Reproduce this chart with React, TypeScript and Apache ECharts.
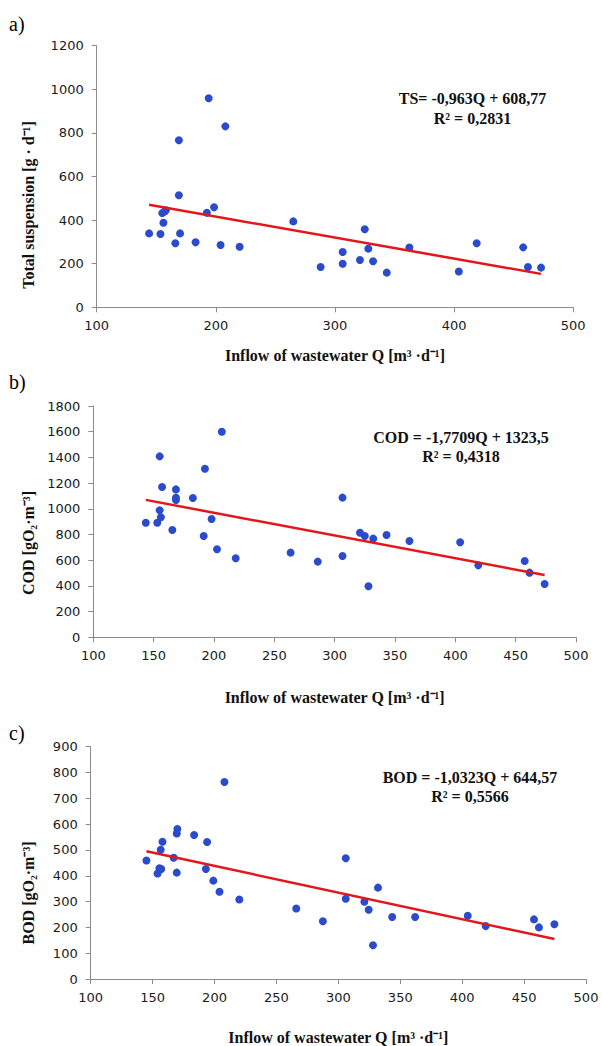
import React, { useEffect, useRef } from "react";
import * as echarts from "echarts";

// ---- Data ----
const tsQ = [144, 153.5, 156, 157, 155, 158, 166, 170, 169, 169, 183, 192.5, 194, 198.5, 204, 208, 220, 265, 288, 306.5, 306.5, 321, 325, 328, 332, 343.5, 362.5, 404, 419, 458, 462, 473];
const tsVal = [339, 336, 388, 439, 432, 445, 294, 339, 514, 766, 298, 434, 959, 459, 286, 830, 278, 394, 185, 254, 200, 217, 358, 269, 211, 159, 274, 164, 294, 275, 185, 182];

const codQ = [143.5, 153, 155, 156, 155, 157, 165.5, 168.5, 168.5, 168.5, 182.5, 191.5, 192.5, 198, 202.5, 206.5, 218, 263.5, 286, 306.5, 306.5, 321, 325, 328, 332, 343, 362, 404, 419, 457.5, 461.5, 474];
const codVal = [892, 892, 988, 934, 1408, 1170, 835, 1151, 1087, 1068, 1084, 788, 1312, 921, 685, 1600, 615, 659, 589, 1087, 633, 814, 788, 397, 768, 796, 750, 739, 560, 594, 503, 415];

const bodQ = [145, 154, 155.5, 157, 156.5, 158, 167, 169.5, 169.5, 170, 183.5, 193, 194, 199, 204, 208, 220, 266, 287.5, 306, 306, 321, 324.5, 328, 332, 343.5, 362, 404.5, 419, 458, 462, 474.5];
const bodVal = [459, 409, 429, 426, 501, 532, 470, 412, 564, 581, 558, 426, 531, 381, 338, 763, 308, 273, 224, 468, 311, 299, 268, 131, 354, 240, 240, 245, 205, 231, 200, 212];

// trend-line coefficients (from the equations shown)
const tsSlope = -0.963, tsIntercept = 608.77;
const codSlope = -1.7709, codIntercept = 1323.5;
const bodSlope = -1.0323, bodIntercept = 644.57;

const xTicksA = [100, 500, 100]; // min, max, interval
const xTicksBC = [100, 500, 50];
const yTicksA = [0, 1200, 200];
const yTicksB = [0, 1800, 200];
const yTicksC = [0, 900, 100];

const eqA = ["TS= -0,963Q + 608,77", "R² = 0,2831"];
const eqB = ["COD = -1,7709Q + 1323,5", "R² = 0,4318"];
const eqC = ["BOD = -1,0323Q + 644,57", "R² = 0,5566"];

const xTitle = "Inflow of wastewater Q [m³ ·d⁻¹]";
const yTitleA = "Total suspension [g · d⁻¹]";
const yTitleB = "COD [gO₂·m⁻³]";
const yTitleC = "BOD [gO₂·m⁻³]";

const SERIF = "'Liberation Serif', 'Times New Roman', serif";
const SANS = "'DejaVu Sans', Verdana, sans-serif";
const BLUE = "#2A4BCB";
const RED = "#E3161B";
const AXIS = "#8C8C8C";

function fitLine(q: number[], slope: number, intercept: number) {
  const lo = Math.min(...q);
  const hi = Math.max(...q);
  return [
    [lo, slope * lo + intercept],
    [hi, slope * hi + intercept],
  ];
}

function xAxis(gridIndex: number, t: number[], nameGap: number) {
  return {
    type: "value",
    gridIndex,
    min: t[0],
    max: t[1],
    interval: t[2],
    name: xTitle,
    nameLocation: "middle",
    nameGap,
    nameTextStyle: { fontFamily: SERIF, fontWeight: "bold", fontSize: 16, color: "#111" },
    axisLine: { show: true, onZero: false, lineStyle: { color: AXIS, width: 1 } },
    axisTick: { show: true, inside: false, length: 5, lineStyle: { color: AXIS } },
    axisLabel: { fontFamily: SANS, fontSize: 13, color: "#1a1a1a", margin: 12, formatter: (v: number) => String(v) },
    splitLine: { show: false },
  };
}

function yAxis(gridIndex: number, t: number[]) {
  return {
    type: "value",
    gridIndex,
    min: t[0],
    max: t[1],
    interval: t[2],
    axisLine: { show: true, onZero: false, lineStyle: { color: AXIS, width: 1 } },
    axisTick: { show: true, inside: false, length: 5, lineStyle: { color: AXIS } },
    axisLabel: { fontFamily: SANS, fontSize: 13, color: "#1a1a1a", margin: 13, formatter: (v: number) => String(v) },
    splitLine: { show: false },
  };
}

function scatter(i: number, q: number[], v: number[]) {
  return {
    type: "scatter",
    xAxisIndex: i,
    yAxisIndex: i,
    data: q.map((x, k) => [x, v[k]]),
    symbol: "circle",
    symbolSize: 8,
    itemStyle: { color: BLUE, opacity: 1 },
    z: 2,
  };
}

function trend(i: number, q: number[], slope: number, intercept: number) {
  return {
    type: "line",
    xAxisIndex: i,
    yAxisIndex: i,
    data: fitLine(q, slope, intercept),
    showSymbol: false,
    symbol: "none",
    lineStyle: { color: RED, width: 2.5 },
    z: 3,
  };
}

function eqText(lines: string[], cx: number, y1: number, y2: number) {
  return [
    {
      type: "text",
      x: cx,
      y: y1,
      style: { text: lines[0], font: `bold 16px ${SERIF}`, fill: "#111", align: "center", verticalAlign: "middle" },
    },
    {
      type: "text",
      x: cx,
      y: y2,
      style: { text: lines[1], font: `bold 16px ${SERIF}`, fill: "#111", align: "center", verticalAlign: "middle" },
    },
  ];
}

function yTitle(text: string, x: number, y: number) {
  return {
    type: "text",
    x,
    y,
    rotation: Math.PI / 2,
    style: { text, font: `bold 16px ${SERIF}`, fill: "#111", align: "center", verticalAlign: "middle" },
  };
}

function panelLabel(text: string, y: number) {
  return {
    type: "text",
    x: 9,
    y,
    style: { text, font: `20px ${SERIF}`, fill: "#000", align: "left", verticalAlign: "middle" },
  };
}

export default function App() {
  const ref = useRef<HTMLDivElement>(null);
  useEffect(() => {
    document.body.style.margin = "0";
    if (!ref.current) return;
    const chart = echarts.init(ref.current, undefined, { renderer: "svg" });
    chart.setOption({
      animation: false,
      backgroundColor: "#ffffff",
      grid: [
        { left: 96.7, top: 45.7, width: 476.5, height: 261.6 },
        { left: 93.3, top: 406, width: 482.7, height: 231.3 },
        { left: 90.7, top: 746.7, width: 495.3, height: 234 },
      ],
      xAxis: [xAxis(0, xTicksA, 40), xAxis(1, xTicksBC, 52), xAxis(2, xTicksBC, 50)],
      yAxis: [yAxis(0, yTicksA), yAxis(1, yTicksB), yAxis(2, yTicksC)],
      series: [
        scatter(0, tsQ, tsVal),
        trend(0, tsQ, tsSlope, tsIntercept),
        scatter(1, codQ, codVal),
        trend(1, codQ, codSlope, codIntercept),
        scatter(2, bodQ, bodVal),
        trend(2, bodQ, bodSlope, bodIntercept),
      ],
      graphic: [
        panelLabel("a)", 24),
        panelLabel("b)", 382),
        panelLabel("c)", 733),
        ...eqText(eqA, 472.5, 98.5, 118.5),
        ...eqText(eqB, 461, 437.5, 456),
        ...eqText(eqC, 470, 777.5, 796),
        yTitle(yTitleA, 28, 205),
        yTitle(yTitleB, 28, 543),
        yTitle(yTitleC, 28, 893),
      ],
    });
    return () => chart.dispose();
  }, []);
  return <div ref={ref} style={{ width: 602, height: 1046 }} />;
}
